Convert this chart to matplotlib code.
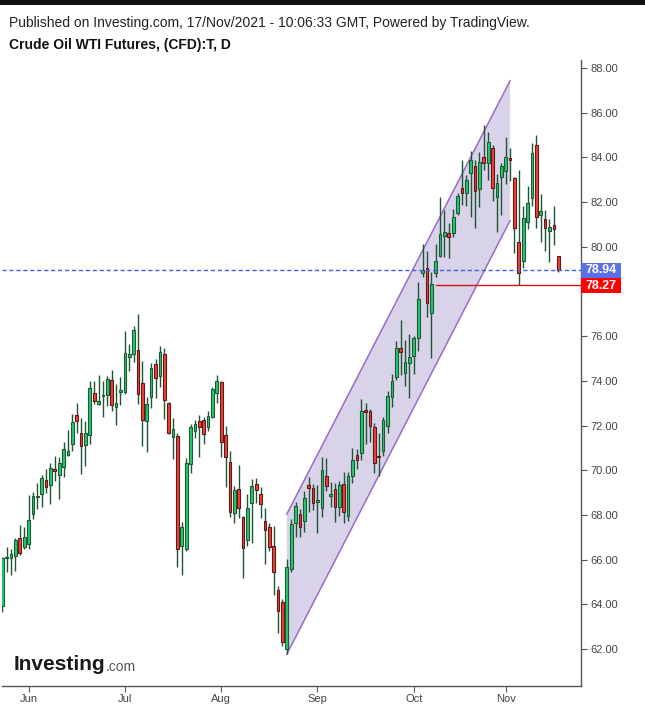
import matplotlib
matplotlib.use('Agg')
import matplotlib.pyplot as plt
import matplotlib.transforms as mtransforms
from matplotlib.patches import Rectangle, Polygon
import numpy as np
import pandas as pd

plt.rcParams['font.family'] = ['Liberation Sans', 'DejaVu Sans']

# ---------------- data ----------------
dates = pd.bdate_range('2021-05-24', '2021-11-17')

opens = [63.93, 66.05, 66.05, 66.18, 66.95, 66.58, 66.69, 68.03, 68.78, 68.92,
         69.55, 69.33, 70.04, 69.77, 70.13, 70.67, 71.16, 72.46, 71.65, 71.12,
         71.56, 73.44, 72.97, 73.30, 73.35, 74.03, 72.82, 73.50, 73.52, 75.05,
         75.19, 75.37, 73.89, 72.19, 73.26, 74.74, 74.20, 75.19, 73.00, 71.50,
         71.52, 66.63, 66.46, 70.27, 71.76, 72.20, 72.23, 71.92, 72.40, 73.44,
         73.93, 71.56, 70.35, 68.07, 69.14, 67.90, 66.88, 68.52, 69.37, 68.92,
         67.71, 67.44, 66.61, 64.64, 64.09, 61.98, 65.56, 67.65, 68.04, 67.74,
         69.34, 69.19, 68.60, 68.29, 69.75, 68.86, 69.14, 68.37, 69.37, 67.96,
         69.75, 70.66, 70.78, 72.69, 72.65, 71.92, 70.63, 70.87, 71.99, 73.26,
         74.19, 75.45, 74.37, 74.78, 75.13, 75.90, 78.84, 79.03, 77.02, 78.84,
         79.60, 80.50, 80.60, 80.60, 81.50, 82.62, 82.39, 83.32, 83.62, 82.60,
         84.00, 83.73, 84.40, 82.24, 83.11, 83.38, 83.92, 83.06, 80.20, 79.38,
         81.12, 82.17, 84.55, 81.41, 81.23, 80.69, 80.96, 79.57]
highs = [66.13, 66.55, 66.46, 66.95, 67.54, 67.45, 68.89, 69.01, 69.43, 69.79,
         70.04, 70.31, 70.64, 70.61, 71.25, 71.80, 72.52, 72.99, 72.32, 72.20,
         73.99, 73.99, 74.26, 73.98, 74.22, 74.47, 73.86, 74.16, 76.23, 75.65,
         76.45, 76.99, 74.89, 73.28, 74.79, 74.97, 75.56, 75.46, 73.05, 72.32,
         71.65, 67.70, 70.53, 72.07, 72.25, 72.47, 72.40, 72.65, 73.71, 74.26,
         74.00, 71.98, 70.86, 69.29, 70.23, 67.95, 68.92, 69.62, 69.63, 69.26,
         68.29, 67.62, 67.50, 64.82, 64.22, 66.01, 67.81, 68.59, 68.28, 69.07,
         69.68, 69.37, 69.34, 70.60, 70.53, 69.49, 69.41, 69.52, 69.90, 69.93,
         70.98, 70.93, 73.17, 72.99, 72.72, 72.10, 71.65, 72.39, 73.54, 74.31,
         75.78, 76.72, 75.83, 76.10, 76.01, 78.44, 80.11, 79.81, 78.89, 80.12,
         82.21, 81.65, 81.05, 81.68, 82.39, 83.88, 83.21, 84.30, 83.88, 84.26,
         85.45, 85.12, 84.55, 83.26, 83.73, 84.90, 84.40, 83.11, 83.44, 81.83,
         82.72, 84.66, 85.00, 82.36, 81.65, 81.24, 81.82, 79.57]
lows = [63.67, 65.46, 65.31, 65.51, 66.21, 66.46, 66.46, 67.83, 68.25, 68.37,
        69.00, 68.50, 69.52, 68.72, 69.71, 70.64, 70.88, 71.68, 69.82, 70.21,
        71.19, 72.98, 72.90, 72.37, 72.89, 72.67, 72.04, 72.90, 73.43, 74.46,
        74.83, 72.98, 71.10, 70.83, 72.77, 73.22, 73.74, 72.28, 71.60, 70.49,
        65.69, 65.30, 66.40, 69.89, 71.46, 70.61, 71.16, 71.76, 72.32, 72.99,
        70.60, 69.26, 67.92, 67.65, 67.84, 65.19, 66.62, 66.73, 68.52, 67.84,
        65.79, 66.40, 64.41, 62.70, 62.15, 61.77, 65.44, 67.02, 67.02, 67.25,
        68.14, 68.22, 67.17, 67.89, 69.07, 68.34, 67.70, 67.95, 67.62, 67.73,
        69.41, 70.05, 70.46, 71.16, 71.28, 69.89, 69.74, 70.63, 71.68, 72.85,
        74.04, 74.26, 73.77, 73.22, 74.29, 75.35, 78.63, 76.87, 75.01, 78.66,
        79.56, 79.53, 79.48, 80.42, 81.42, 81.87, 81.82, 81.35, 80.86, 81.79,
        83.44, 82.99, 82.06, 80.65, 81.42, 82.81, 82.96, 79.74, 78.27, 79.04,
        80.78, 81.83, 80.86, 80.23, 79.83, 79.33, 80.08, 78.89]
closes = [66.06, 66.10, 66.24, 66.88, 66.31, 67.00, 67.78, 68.83, 68.82, 69.64,
          69.24, 70.09, 69.98, 70.31, 70.94, 70.88, 72.14, 72.19, 71.07, 71.65,
          73.67, 73.09, 73.09, 73.34, 74.07, 72.94, 73.00, 73.52, 75.23, 75.19,
          76.26, 73.40, 72.25, 72.95, 74.56, 74.11, 75.28, 73.13, 71.65, 71.83,
          66.46, 67.45, 70.31, 71.92, 72.08, 71.92, 71.64, 72.41, 73.62, 73.98,
          71.28, 70.57, 68.14, 69.11, 68.29, 66.50, 68.29, 69.28, 69.11, 68.47,
          67.32, 66.58, 65.46, 63.71, 62.33, 65.65, 67.59, 68.40, 67.44, 68.74,
          69.22, 68.52, 68.64, 70.01, 69.31, 68.90, 68.37, 69.32, 68.14, 69.74,
          70.48, 70.48, 72.65, 72.62, 71.99, 70.31, 70.57, 72.23, 73.32, 73.99,
          75.45, 75.31, 74.86, 75.05, 75.90, 77.65, 78.96, 77.47, 78.33, 79.35,
          80.56, 80.65, 80.45, 81.32, 82.29, 82.42, 82.99, 83.88, 82.51, 83.80,
          83.76, 84.67, 82.65, 82.84, 83.62, 84.03, 83.88, 80.86, 78.81, 81.27,
          81.94, 84.18, 81.35, 81.59, 80.83, 80.90, 80.78, 78.94]

channel_idx = [65, 116]
channel_lower = [61.77, 81.17]
channel_upper = [68.04, 87.43]
support_level = 78.27
support_start = 99

y_ticks = [62, 64, 66, 68, 70, 72, 74, 76, 78, 80, 82, 84, 86, 88]
month_labels = ['Jun', 'Jul', 'Aug', 'Sep', 'Oct', 'Nov']

header = 'Published on Investing.com, 17/Nov/2021 - 10:06:33 GMT, Powered by TradingView.'
title = 'Crude Oil WTI Futures, (CFD):T, D'

# ---------------- figure ----------------
W, H = 645, 709
fig = plt.figure(figsize=(W / 100, H / 100), dpi=100)
fig.patch.set_facecolor('white')
ax_left, ax_right, ax_top, ax_bottom = 2, 581, 60, 686
ax = fig.add_axes([ax_left / W, 1 - ax_bottom / H,
                   (ax_right - ax_left) / W, (ax_bottom - ax_top) / H])

# channel
xs = channel_idx
poly = Polygon([(xs[0], channel_lower[0]), (xs[0], channel_upper[0]),
                (xs[1], channel_upper[1]), (xs[1], channel_lower[1])],
               closed=True, facecolor='#d8d3e9', edgecolor='none', zorder=1)
ax.add_patch(poly)
ax.plot(xs, channel_lower, color='#9a6cc9', lw=1.1, zorder=2)
ax.plot(xs, channel_upper, color='#9a6cc9', lw=1.1, zorder=2)

# candles
n = len(opens)
bw = 0.62
wick_col = '#1f5535'
for i in range(n):
    o, h, l, c = opens[i], highs[i], lows[i], closes[i]
    up = c >= o
    ax.plot([i, i], [l, h], color=wick_col, lw=1.0, zorder=3, solid_capstyle='butt')
    bottom = min(o, c)
    height = max(abs(c - o), 0.08)
    fc = '#27c76f' if up else '#ef4236'
    ec = '#1d5a35' if up else '#5e1a1a'
    ax.add_patch(Rectangle((i - bw / 2, bottom), bw, height, facecolor=fc,
                           edgecolor=ec, lw=0.8, zorder=4))

# last price line
last = closes[-1]
ax.axhline(last, color='#3f5fe8', lw=1.0, ls=(0, (3, 2)), zorder=5)
# support line
ax.plot([support_start, n + 10], [support_level, support_level],
        color='#d41515', lw=1.0, zorder=5)

ax.set_xlim(-0.07, 132.2)
y_per_px = (88 - 62) / (649 - 68)
ax.set_ylim(88 - (ax_bottom - 68) * y_per_px, 88 + (68 - ax_top) * y_per_px)

# axes styling
for s in ['top', 'left']:
    ax.spines[s].set_visible(False)
for s in ['right', 'bottom']:
    ax.spines[s].set_color('#555555')
    ax.spines[s].set_linewidth(1.0)
ax.yaxis.tick_right()
ax.set_yticks(y_ticks)
# the 78.00 label sits beneath the price boxes in the reference
ax.set_yticklabels(['' if v == 78 else '%.2f' % v for v in y_ticks])
ax.tick_params(axis='y', length=4, width=0.8, color='#555555', pad=3,
               labelsize=8, labelcolor='#444444')

month_pos = []
seen = set()
for i, d in enumerate(dates):
    key = (d.year, d.month)
    if key not in seen:
        seen.add(key)
        if i > 0:
            month_pos.append(i)
ax.set_xticks(month_pos)
ax.set_xticklabels(month_labels)
ax.tick_params(axis='x', length=4, width=0.8, color='#555555', pad=2,
               labelsize=8, labelcolor='#444444')

# price labels
blend = mtransforms.blended_transform_factory(ax.transAxes, ax.transData)
box_w = 40 / (ax_right - ax_left)
box_h = 15 * y_per_px
label_centers = [last, last - box_h - 0.5 * y_per_px]
for val, ctr, col in [(last, label_centers[0], '#5a6fe6'),
                      (support_level, label_centers[1], '#ff0000')]:
    ax.add_patch(Rectangle((1.0, ctr - box_h / 2), box_w, box_h, transform=blend,
                           facecolor=col, edgecolor='none', clip_on=False, zorder=6))
    ax.text(1.0 + box_w / 2, ctr, '%.2f' % val, transform=blend, ha='center',
            va='center', color='white', fontsize=9, fontweight='bold',
            clip_on=False, zorder=7)

# header
fig.patches.append(Rectangle((0, 1 - 5 / H), 1, 5 / H, transform=fig.transFigure,
                             facecolor='#111111', edgecolor='none'))
fig.text(9 / W, 1 - 23 / H, header, fontsize=10, color='#222222', va='center', ha='left')
fig.text(9 / W, 1 - 45 / H, title, fontsize=10, fontweight='bold', color='#111111',
         va='center', ha='left')

# watermark
t1 = fig.text(14 / W, 1 - 664 / H, 'Investing', fontsize=15, fontweight='bold',
              color='#1a1a1a', va='center', ha='left')
fig.canvas.draw()
bb = t1.get_window_extent(fig.canvas.get_renderer())
fig.text(bb.x1 / W + 0.5 / W, 1 - 667 / H, '.com', fontsize=10, color='#555555',
         va='center', ha='left')

fig.savefig('out.png', dpi=100, facecolor='white')
